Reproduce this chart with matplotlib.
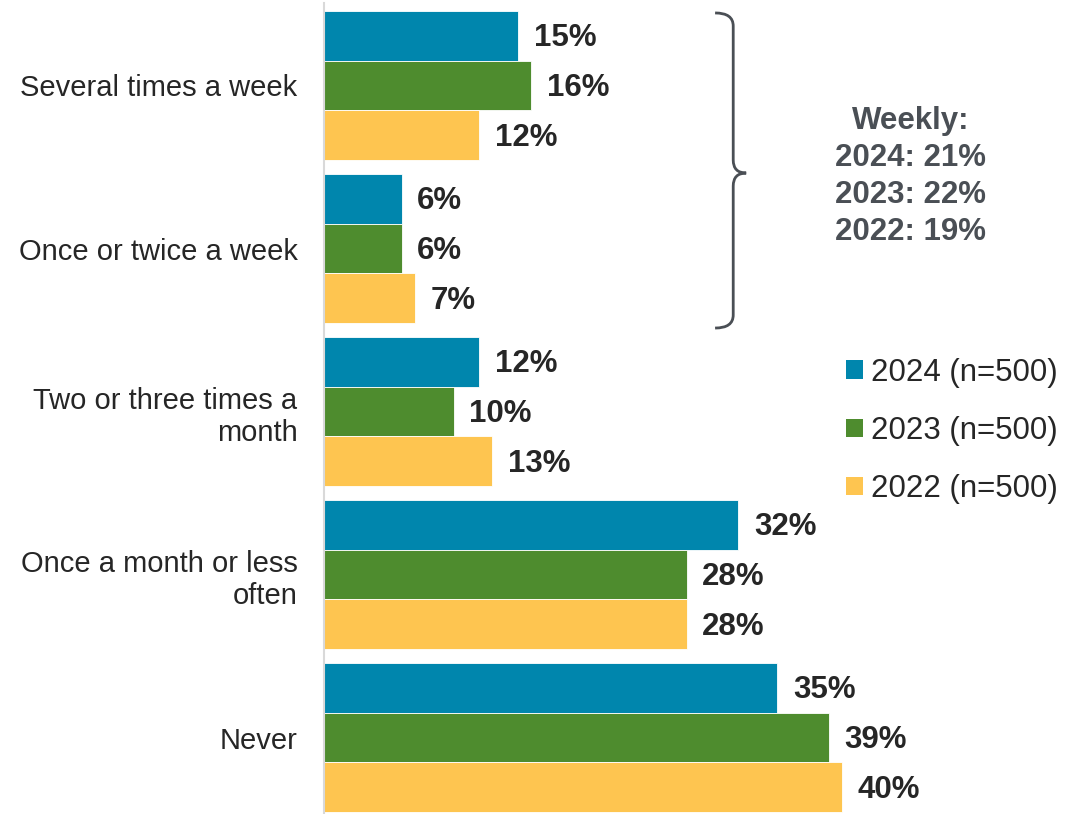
import numpy as np
import matplotlib.pyplot as plt
from matplotlib.path import Path
from matplotlib.patches import PathPatch, Patch

plt.rcParams['font.family'] = ['Liberation Sans', 'DejaVu Sans']

# Data
categories = ['Several times a week', 'Once or twice a week', 'Two or three times a\nmonth',
              'Once a month or less\noften', 'Never']
years = ['2024 (n=500)', '2023 (n=500)', '2022 (n=500)']
vals_2024 = [15, 6, 12, 32, 35]
vals_2023 = [16, 6, 10, 28, 39]
vals_2022 = [12, 7, 13, 28, 40]
weekly_text = 'Weekly:\n2024: 21%\n2023: 22%\n2022: 19%'

colors = ['#0086AD', '#4E8C2E', '#FEC550']
series = [vals_2024, vals_2023, vals_2022]

fig = plt.figure(figsize=(10.89, 8.14), dpi=100)
ax = fig.add_axes([324 / 1089, 0, 1 - 324 / 1089, (814 - 3) / 814])

y = np.arange(len(categories))
h = 0.305
for k, (vals, col) in enumerate(zip(series, colors)):
    pos = y + (k - 1) * h
    ax.barh(pos, vals, height=h, color=col, edgecolor='white', linewidth=0.6)
    for p, v in zip(pos, vals):
        ax.text(v + 1.2, p + 0.015, f'{v}%', va='center', ha='left', fontsize=22.5,
                fontweight='bold', color='#262626')

ax.set_xlim(0, (1089 - 324) / 12.95)
ax.set_ylim(4.469, -0.506)
ax.set_yticks(y)
ax.set_yticklabels(categories, fontsize=21, color='#262626')
ax.tick_params(axis='y', length=0, pad=19)
ax.set_xticks([])
for s in ['top', 'right', 'bottom']:
    ax.spines[s].set_visible(False)
ax.spines['left'].set_color('#D9D9D9')
ax.spines['left'].set_linewidth(1.5)

# curly brace around the weekly categories
xl, xm, xt = 30.2, 31.6, 32.6
yt, ym, yb = -0.445, 0.537, 1.488
r = 0.08
verts = [(xl, yt), (xm, yt), (xm, yt + r),
         (xm, ym - r), (xm, ym), (xt, ym),
         (xm, ym), (xm, ym + r),
         (xm, yb - r), (xm, yb), (xl, yb)]
codes = [Path.MOVETO, Path.CURVE3, Path.CURVE3,
         Path.LINETO, Path.CURVE3, Path.CURVE3,
         Path.CURVE3, Path.CURVE3,
         Path.LINETO, Path.CURVE3, Path.CURVE3]
ax.add_patch(PathPatch(Path(verts, codes), fill=False, edgecolor='#4A4F55',
                       linewidth=2, clip_on=False))

ax.text((911 - 324) / 12.95, ym + 0.02, weekly_text, ha='center', va='center',
        fontsize=22.5, fontweight='bold', color='#4A4F55', linespacing=1.3)

handles = [Patch(facecolor=c, edgecolor='none') for c in colors]
fig.legend(handles, years, loc='center left', bbox_to_anchor=(846 / 1089, 1 - 431 / 814),
           bbox_transform=fig.transFigure, frameon=False, fontsize=22.5,
           handlelength=0.55, handleheight=0.55, handletextpad=0.25,
           labelspacing=0.9, borderpad=0, borderaxespad=0, labelcolor='#262626')

fig.savefig('out.png', dpi=100)
